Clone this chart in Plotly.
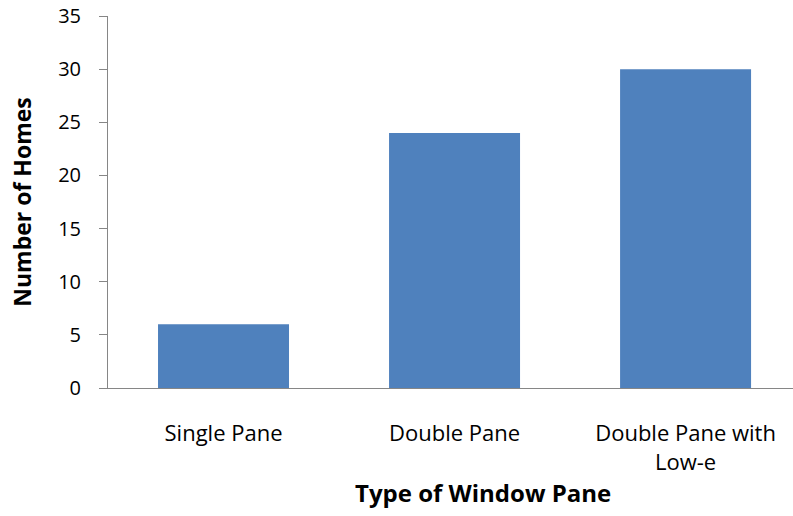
import plotly.graph_objects as go

# Window pane survey data
categories = ["Single Pane", "Double Pane", "Double Pane with<br>Low-e"]
homes = [6, 24, 30]
y_ticks = [0, 5, 10, 15, 20, 25, 30, 35]

bar_color = "#4F81BD"
axis_color = "#868686"
font_family = "'Open Sans', 'Noto Sans', sans-serif"

fig = go.Figure(
    go.Bar(
        x=categories,
        y=homes,
        marker=dict(color=bar_color, line=dict(width=0)),
        width=0.567,
    )
)

fig.update_layout(
    width=793,
    height=516,
    margin=dict(l=108, r=0, t=16, b=128),
    paper_bgcolor="white",
    plot_bgcolor="white",
    showlegend=False,
    font=dict(family=font_family, size=20, color="#000000"),
)

fig.update_xaxes(
    range=[-0.5, 2.465],
    showgrid=False,
    zeroline=False,
    showline=True,
    linecolor=axis_color,
    linewidth=1,
    ticks="",
    ticklabelstandoff=26,
    tickfont=dict(size=22),
)

fig.update_yaxes(
    range=[0, 35],
    tickvals=y_ticks,
    showgrid=False,
    zeroline=False,
    showline=True,
    linecolor=axis_color,
    linewidth=1,
    ticks="outside",
    ticklen=8,
    tickcolor=axis_color,
    ticklabelstandoff=14,
    tickfont=dict(size=20),
    title=dict(
        text="<b>Number of Homes</b>",
        font=dict(size=23),
        standoff=20,
    ),
)

# Horizontal axis title
fig.add_annotation(
    text="<b>Type of Window Pane</b>",
    xref="paper",
    yref="paper",
    x=0.547,
    y=-0.28,
    xanchor="center",
    yanchor="middle",
    showarrow=False,
    font=dict(size=24),
)

fig.write_html("out.html")
